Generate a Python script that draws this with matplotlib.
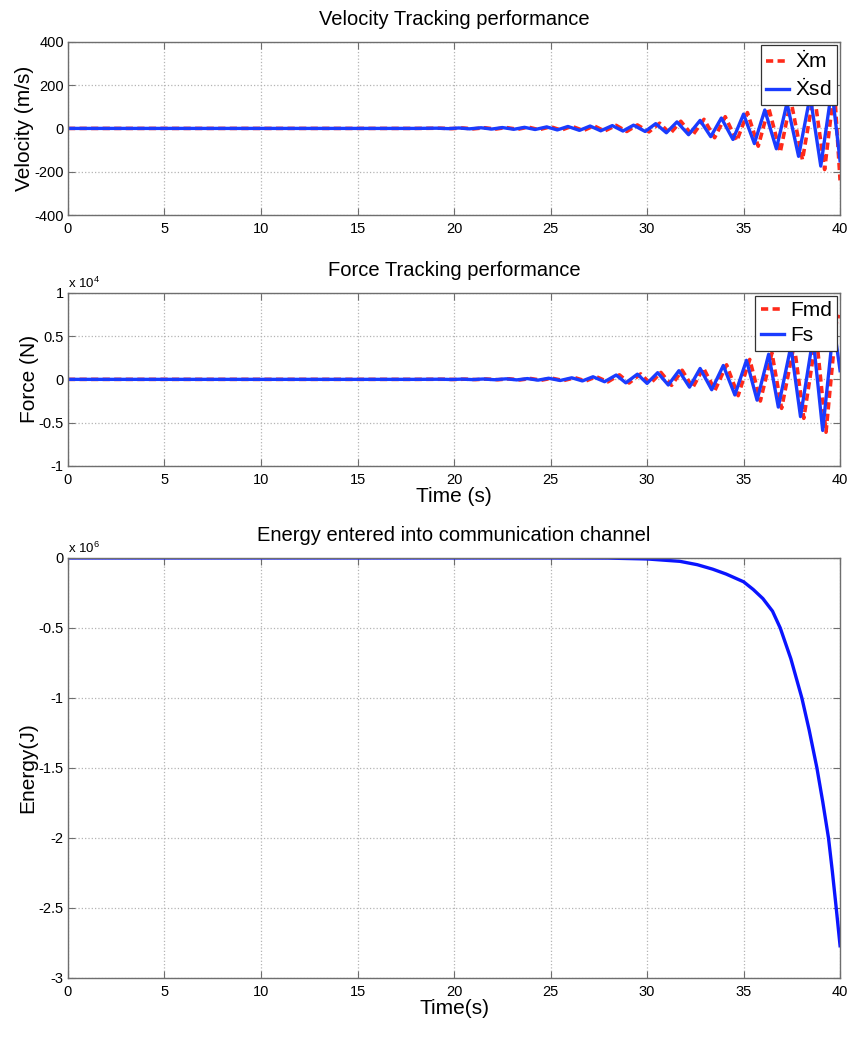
import matplotlib
matplotlib.use("Agg")
import matplotlib.pyplot as plt
from matplotlib.ticker import FuncFormatter

plt.rcParams['font.family'] = ['Liberation Sans', 'DejaVu Sans']
plt.rcParams['mathtext.fontset'] = 'custom'
plt.rcParams['mathtext.rm'] = 'Liberation Sans'
plt.rcParams['axes.unicode_minus'] = False

vsd_t = [0, 18.0, 19.1, 19.7, 20.25, 20.8, 21.4, 21.95, 22.5, 23.1, 23.65, 24.2, 24.8,
         25.35, 25.9, 26.5, 27.05, 27.6, 28.2, 28.75, 29.3, 29.9, 30.45, 31.0, 31.55,
         32.15, 32.75, 33.3, 33.85, 34.45, 35.0, 35.56, 36.1, 36.7, 37.25, 37.85,
         38.45, 39.0, 39.57, 40.0]
vsd_v = [0, 0, 1, -1, 2, -2, 3, -3, 4, -4, 5, -5, 7, -7, 9, -9, 11, -11, 13, -12,
         15, -14, 22, -20, 30, -29, 37, -38, 48, -51, 66, -70, 85, -94, 117, -129,
         150, -174, 180, -150]
vm_t = [0, 18.0, 19.3, 19.9, 20.45, 21.0, 21.6, 22.15, 22.7, 23.3, 23.85, 24.4, 25.0,
        25.55, 26.1, 26.7, 27.25, 27.8, 28.4, 28.95, 29.5, 30.1, 30.65, 31.2, 31.75,
        32.35, 32.95, 33.5, 34.05, 34.65, 35.2, 35.76, 36.3, 36.9, 37.45, 38.05,
        38.65, 39.2, 39.7, 40.0]
vm_v = [0, 0, 1, -1, 2, -2, 3, -3, 4, -4, 6, -6, 8, -8, 10, -10, 12, -12, 14, -14,
        16, -16, 24, -24, 33, -33, 42, -43, 54, -58, 73, -82, 95, -110, 130, -145,
        165, -190, 190, -240]

# force (N)
fs_t = [0, 18.0, 19.3, 19.85, 20.4, 20.95, 21.5, 22.1, 22.7, 23.25, 23.8, 24.35, 24.9,
        25.5, 26.1, 26.65, 27.2, 27.8, 28.4, 28.9, 29.5, 30.0, 30.55, 31.1, 31.65,
        32.2, 32.75, 33.35, 33.95, 34.55, 35.15, 35.7, 36.3, 36.8, 37.45, 37.95,
        38.6, 39.1, 39.67, 40.0]
fs_v = [0, 0, 15, -15, 25, -25, 40, -40, 60, -60, 90, -90, 130, -130, 180, -180,
        300, -270, 500, -400, 600, -460, 770, -650, 1000, -900, 1260, -1200, 1600,
        -1800, 2200, -2400, 2900, -3200, 3800, -4300, 4800, -5900, 6300, 1000]
fmd_t = [0, 18.0, 19.47, 20.02, 20.57, 21.12, 21.67, 22.27, 22.87, 23.42, 23.97,
         24.52, 25.07, 25.67, 26.27, 26.82, 27.37, 27.97, 28.57, 29.07, 29.67, 30.17,
         30.72, 31.27, 31.82, 32.37, 32.92, 33.52, 34.12, 34.72, 35.32, 35.87, 36.47,
         36.97, 37.62, 38.12, 38.77, 39.27, 39.84, 40.0]
fmd_v = [0, 0, 16, -16, 26, -26, 42, -42, 63, -63, 95, -95, 135, -135, 190, -190,
         310, -285, 520, -420, 630, -480, 800, -690, 1050, -950, 1320, -1260, 1680,
         -1880, 2300, -2500, 3050, -3350, 4000, -4500, 5000, -6100, 7300, 7200]

# energy (J)
e_t = [0, 10, 20, 25, 28.0, 30.0, 31.7, 32.6, 33.4, 34.1, 35.0, 35.5, 36.0, 36.5,
       36.9, 37.45, 38.02, 38.4, 38.8, 39.1, 39.4, 39.6, 39.8, 40.0]
e_v = [0, 0, 0, 0, -1e3, -7e3, -2.4e4, -4.8e4, -8.0e4, -1.15e5, -1.7e5, -2.25e5,
       -2.9e5, -3.8e5, -5.0e5, -7.2e5, -1.0e6, -1.23e6, -1.5e6, -1.74e6,
       -2.0e6, -2.24e6, -2.5e6, -2.77e6]

fig = plt.figure(figsize=(8.56, 10.5), dpi=100)
ax1 = fig.add_axes([0.0794, 0.7952, 0.902, 0.165])
ax2 = fig.add_axes([0.0794, 0.5562, 0.902, 0.165])
ax3 = fig.add_axes([0.0794, 0.0686, 0.902, 0.400])

spine_c = '#6e6e6e'
for ax in (ax1, ax2, ax3):
    ax.set_xlim(0, 40)
    ax.set_xticks(range(0, 41, 5))
    ax.grid(True, linestyle=':', color='#b4b4b4', linewidth=0.9)
    ax.tick_params(direction='in', top=True, right=True, labelsize=10.5,
                   length=5, color=spine_c, pad=3)
    ax.tick_params(axis='x', pad=5)
    for s in ax.spines.values():
        s.set_color(spine_c)
        s.set_linewidth(1.0)

ax1.plot(vm_t, vm_v, color='#ff2a1a', linestyle='--', linewidth=2.6,
         dashes=(2.0, 1.2), label=r'$\dot{\mathrm{X}}$m')
ax1.plot(vsd_t, vsd_v, color='#1a3cff', linewidth=2.4, label=r'$\dot{\mathrm{X}}$sd')
ax1.set_ylim(-400, 400)
ax1.set_yticks([-400, -200, 0, 200, 400])
ax1.set_title('Velocity Tracking performance', fontsize=14.5, pad=12)
ax1.set_ylabel('Velocity (m/s)', fontsize=15, labelpad=0)

ax2.plot(fmd_t, fmd_v, color='#ff2a1a', linestyle='--', linewidth=2.6,
         dashes=(2.0, 1.2), label='Fmd')
ax2.plot(fs_t, fs_v, color='#1a3cff', linewidth=2.4, label='Fs')
ax2.set_ylim(-1e4, 1e4)
ax2.set_yticks([-1e4, -5e3, 0, 5e3, 1e4])
ax2.yaxis.set_major_formatter(FuncFormatter(lambda v, p: '%g' % (v / 1e4)))
ax2.text(0.0, 1.01, r'x 10$^{4}$', transform=ax2.transAxes, fontsize=9.5,
         ha='left', va='bottom')
ax2.set_title('Force Tracking performance', fontsize=14.5, pad=12)
ax2.set_ylabel('Force (N)', fontsize=15, labelpad=0)
ax2.set_xlabel('Time (s)', fontsize=15, labelpad=0)

ax3.plot(e_t, e_v, color='#0a14ff', linewidth=2.4)
ax3.set_ylim(-3e6, 0)
ax3.set_yticks([-3e6, -2.5e6, -2e6, -1.5e6, -1e6, -5e5, 0])
ax3.yaxis.set_major_formatter(FuncFormatter(lambda v, p: '%g' % (v / 1e6)))
ax3.text(0.0, 1.005, r'x 10$^{6}$', transform=ax3.transAxes, fontsize=9.5,
         ha='left', va='bottom')
ax3.set_title('Energy entered into communication channel', fontsize=14.5, pad=12)
ax3.set_ylabel('Energy(J)', fontsize=15, labelpad=1)
ax3.set_xlabel('Time(s)', fontsize=15, labelpad=0)

for ax in (ax1, ax2):
    leg = ax.legend(loc='upper right', fontsize=15, fancybox=False, framealpha=1,
                    edgecolor='#333333', borderaxespad=0.15, handlelength=1.1,
                    handletextpad=0.3, borderpad=0.25, labelspacing=0.3)
    leg.get_frame().set_linewidth(0.9)

fig.savefig('out.png', dpi=100)
